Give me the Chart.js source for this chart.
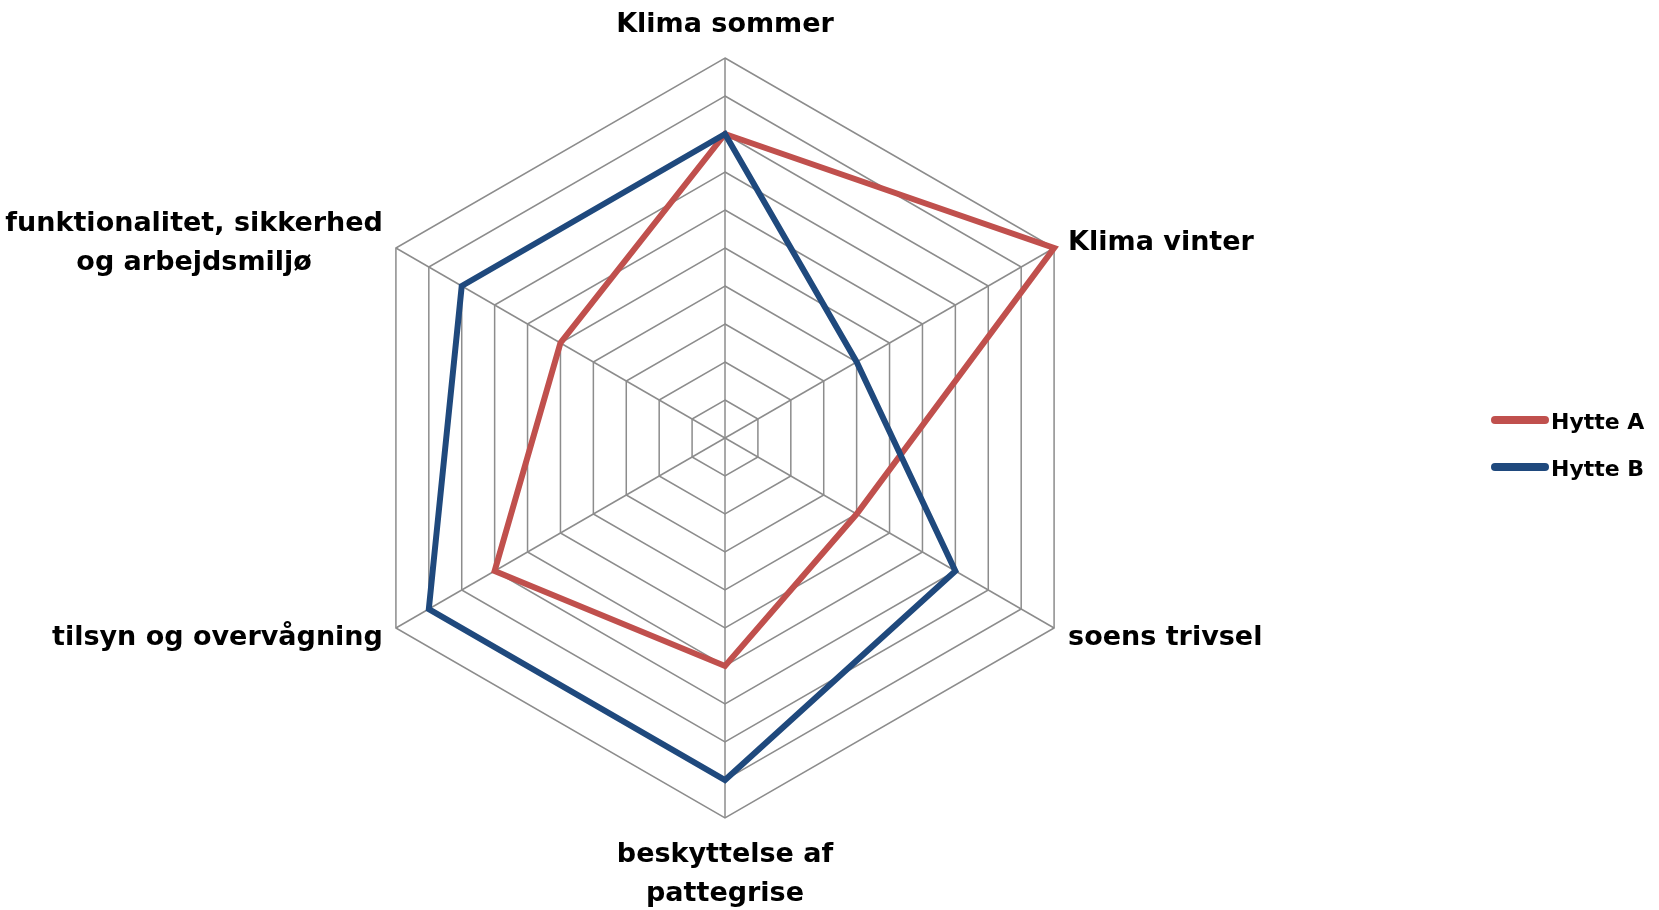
<!DOCTYPE html>
<html>
<head>
<meta charset="utf-8">
<script src="https://cdn.jsdelivr.net/npm/chart.js@4/dist/chart.umd.min.js"></script>
<style>
  html, body { margin: 0; padding: 0; background: #fff; }
  #wrap { position: relative; width: 1659px; height: 910px; }
</style>
</head>
<body>
<div id="wrap"><canvas id="radar" width="1659" height="910"></canvas></div>
<script>
// axis categories (multi-line ones as arrays)
const categories = [
  "Klima sommer",
  "Klima vinter",
  "soens trivsel",
  ["beskyttelse af", "pattegrise"],
  "tilsyn og overvågning",
  ["funktionalitet, sikkerhed", "og arbejdsmiljø"],
];
const seriesNames = ["Hytte A", "Hytte B"];
const hytteA = [8, 10, 4, 6, 7, 5];
const hytteB = [8, 4, 7, 9, 9, 8];
const seriesColors = ["#c0504d", "#1f497d"];

const FONT = "'DejaVu Sans', sans-serif";
const LABEL_SIZE = 27;

// draws the category labels around the web and the legend on the right
const labelsPlugin = {
  id: "labelsPlugin",
  afterDraw(chart) {
    const scale = chart.scales.r;
    const ctx = chart.ctx;
    ctx.save();
    ctx.fillStyle = "#000";
    ctx.font = "bold " + LABEL_SIZE + "px " + FONT;
    ctx.textBaseline = "alphabetic";
    const lineH = 39;
    const capHalf = 11;

    categories.forEach((lab, i) => {
      const lines = Array.isArray(lab) ? lab : [lab];
      const p = scale.getPointPosition(i, scale.drawingArea);
      const dx = p.x - scale.xCenter;
      const dy = p.y - scale.yCenter;
      const blockW = Math.max(...lines.map((l) => ctx.measureText(l).width));
      let cx; // centre x of the text block
      if (Math.abs(dx) < 1) cx = p.x;
      else if (dx > 0) cx = p.x + 14 + blockW / 2;
      else cx = p.x - 13 - blockW / 2;

      let firstBase;
      if (Math.abs(dx) < 1 && dy < 0) {
        firstBase = p.y - 26 - (lines.length - 1) * lineH;
      } else if (Math.abs(dx) < 1) {
        firstBase = p.y + 44;
      } else {
        const mid = p.y + (dy < 0 ? -9 : 6);
        firstBase = mid - ((lines.length - 1) * lineH) / 2 + capHalf;
      }
      ctx.textAlign = "center";
      lines.forEach((l, k) => ctx.fillText(l, cx, firstBase + k * lineH));
    });

    // legend
    ctx.textAlign = "left";
    chart.data.datasets.forEach((ds, k) => {
      const y = 420 + k * 47;
      ctx.strokeStyle = ds.borderColor;
      ctx.lineWidth = 8;
      ctx.lineCap = "round";
      ctx.beginPath();
      ctx.moveTo(1495, y);
      ctx.lineTo(1545, y);
      ctx.stroke();
      ctx.fillStyle = "#000";
      ctx.font = "bold 22px " + FONT;
      ctx.fillText(ds.label, 1551, y + 9);
    });
    ctx.restore();
  },
};

new Chart(document.getElementById("radar"), {
  type: "radar",
  data: {
    labels: categories,
    datasets: [
      {
        label: seriesNames[0],
        data: hytteA,
        borderColor: seriesColors[0],
        backgroundColor: "transparent",
        borderWidth: 6,
        fill: false,
        order: 1,
      },
      {
        label: seriesNames[1],
        data: hytteB,
        borderColor: seriesColors[1],
        backgroundColor: "transparent",
        borderWidth: 6,
        fill: false,
        order: 0,
      },
    ],
  },
  options: {
    responsive: false,
    animation: false,
    layout: {
      padding: { left: 345, right: 554, top: 58, bottom: 92 },
    },
    elements: {
      point: { radius: 0, hoverRadius: 0 },
      line: { tension: 0 },
    },
    scales: {
      r: {
        min: 0,
        max: 10,
        ticks: { display: false, stepSize: 1 },
        grid: { color: "#8c8c8c", lineWidth: 1.5 },
        angleLines: { color: "#8c8c8c", lineWidth: 1.5 },
        pointLabels: { display: false },
      },
    },
    plugins: {
      legend: { display: false },
      tooltip: { enabled: false },
    },
  },
  plugins: [labelsPlugin],
});
</script>
</body>
</html>
